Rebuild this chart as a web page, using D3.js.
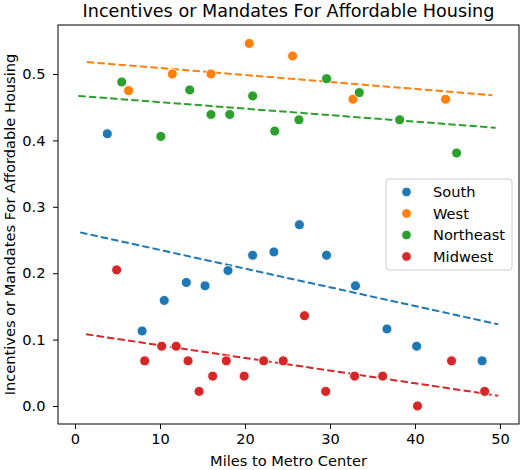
<!DOCTYPE html>
<html>
<head>
<meta charset="utf-8">
<script src="https://cdn.jsdelivr.net/npm/d3@7"></script>
<style>
  html, body { margin: 0; padding: 0; background: #fff; }
  svg { display: block; font-family: "DejaVu Sans", sans-serif; }
</style>
</head>
<body>
<div id="chart"></div>
<script>
// ---- data ----
const regions = ["South", "West", "Northeast", "Midwest"];
const colors = ["#1f77b4", "#ff7f0e", "#2ca02c", "#d62728"];

const southMiles = [3.8, 7.9, 10.5, 13.1, 15.3, 18.0, 20.9, 23.4, 26.4, 29.6, 33.0, 36.7, 40.2, 47.9];
const southShare = [0.410, 0.113, 0.159, 0.186, 0.181, 0.204, 0.227, 0.232, 0.273, 0.227, 0.181, 0.116, 0.090, 0.068];

const westMiles = [6.3, 11.45, 16.0, 20.5, 25.6, 32.7, 43.6];
const westShare = [0.475, 0.500, 0.500, 0.546, 0.527, 0.462, 0.462];

const northeastMiles = [5.5, 10.1, 13.5, 16.0, 18.2, 20.9, 23.5, 26.35, 29.6, 33.45, 38.2, 44.9];
const northeastShare = [0.488, 0.406, 0.476, 0.439, 0.439, 0.467, 0.414, 0.431, 0.493, 0.472, 0.431, 0.381];

const midwestMiles = [4.9, 8.2, 10.2, 11.9, 13.3, 14.6, 16.2, 17.8, 19.9, 22.2, 24.5, 27.0, 29.5, 32.9, 36.2, 40.3, 44.3, 48.2];
const midwestShare = [0.205, 0.068, 0.090, 0.090, 0.068, 0.022, 0.045, 0.068, 0.045, 0.068, 0.068, 0.136, 0.022, 0.045, 0.045, 0.000, 0.068, 0.022];

// dashed trend lines: [start, end] as [miles, share]
const southTrend = [[0.6, 0.2615], [49.8, 0.123]];
const westTrend = [[1.4, 0.518], [49.1, 0.468]];
const northeastTrend = [[0.4, 0.467], [49.5, 0.419]];
const midwestTrend = [[1.3, 0.108], [49.8, 0.0156]];

const xTicks = [0, 10, 20, 30, 40, 50];
const yTicks = [0.0, 0.1, 0.2, 0.3, 0.4, 0.5];

const title = "Incentives or Mandates For Affordable Housing";
const xLabel = "Miles to Metro Center";
const yLabel = "Incentives or Mandates For Affordable Housing";

// ---- build ----
const series = [
  { name: regions[0], color: colors[0], x: southMiles, y: southShare, trend: southTrend },
  { name: regions[1], color: colors[1], x: westMiles, y: westShare, trend: westTrend },
  { name: regions[2], color: colors[2], x: northeastMiles, y: northeastShare, trend: northeastTrend },
  { name: regions[3], color: colors[3], x: midwestMiles, y: midwestShare, trend: midwestTrend }
];

const W = 521, H = 470;
const L = 58, R = 519, T = 25, B = 424;
const FS = 14.6, TFS = 17.6;

const svg = d3.select("#chart").append("svg").attr("width", W).attr("height", H);

const x = d3.scaleLinear().domain([-2, 52.24]).range([L, R]);
const y = d3.scaleLinear().domain([-0.0271, 0.5738]).range([B, T]);

// title
svg.append("text").attr("x", (L + R) / 2).attr("y", 17).attr("text-anchor", "middle")
  .attr("font-size", TFS).attr("fill", "#000").text(title);

const plot = svg.append("g");

// trend lines (under the points)
series.forEach(s => {
  plot.append("path")
    .attr("d", d3.line().x(d => x(d[0])).y(d => y(d[1]))(s.trend))
    .attr("fill", "none").attr("stroke", s.color).attr("stroke-width", 2)
    .attr("stroke-dasharray", "7.4,3.2");
});

// points
series.forEach(s => {
  plot.selectAll(null).data(s.x.map((v, i) => [v, s.y[i]])).enter().append("circle")
    .attr("cx", d => x(d[0])).attr("cy", d => y(d[1])).attr("r", 5)
    .attr("fill", s.color).attr("stroke", "#fff").attr("stroke-width", 0.9);
});

// axes
const xAxis = d3.axisBottom(x).tickValues(xTicks).tickSize(5).tickPadding(4.8).tickFormat(d3.format("d"));
const yAxis = d3.axisLeft(y).tickValues(yTicks).tickSize(5).tickPadding(7.5).tickFormat(d3.format(".1f"));

const gx = svg.append("g").attr("transform", `translate(0,${B})`).call(xAxis);
const gy = svg.append("g").attr("transform", `translate(${L},0)`).call(yAxis);
[gx, gy].forEach(g => {
  g.select(".domain").remove();
  g.selectAll(".tick line").attr("stroke", "#000").attr("stroke-width", 1);
  g.selectAll(".tick text").attr("font-size", FS).attr("fill", "#000")
    .attr("font-family", "DejaVu Sans, sans-serif");
});

// frame
svg.append("rect").attr("x", L).attr("y", T).attr("width", R - L).attr("height", B - T)
  .attr("fill", "none").attr("stroke", "#000").attr("stroke-width", 1);

// axis labels
svg.append("text").attr("x", (L + R) / 2).attr("y", 465.5).attr("text-anchor", "middle")
  .attr("font-size", FS).attr("fill", "#000").text(xLabel);
svg.append("text").attr("transform", `translate(14.5,${(T + B) / 2}) rotate(-90)`)
  .attr("text-anchor", "middle").attr("font-size", FS).attr("fill", "#000").text(yLabel);

// legend
const lg = svg.append("g");
lg.append("rect").attr("x", 386).attr("y", 179).attr("width", 126).attr("height", 91)
  .attr("rx", 3).attr("fill", "#fff").attr("fill-opacity", 0.8)
  .attr("stroke", "#cccccc").attr("stroke-width", 1);
series.forEach((s, i) => {
  const cy = 192 + i * 21.5;
  lg.append("circle").attr("cx", 406.5).attr("cy", cy).attr("r", 4.8).attr("fill", s.color)
    .attr("stroke", "#fff").attr("stroke-width", 0.9);
  lg.append("text").attr("x", 433).attr("y", cy + 5.2).attr("font-size", FS).attr("fill", "#000").text(s.name);
});
</script>
</body>
</html>
